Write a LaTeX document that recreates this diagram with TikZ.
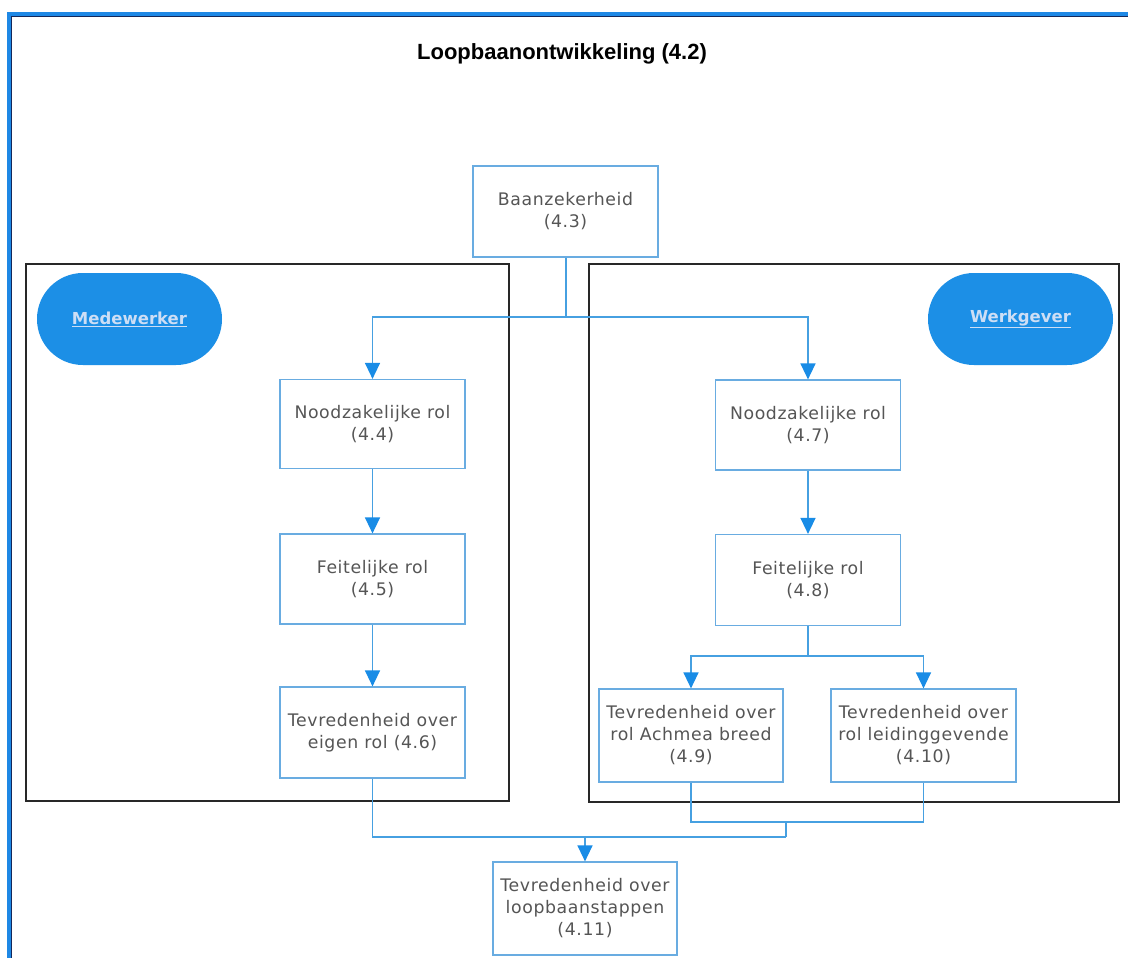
\documentclass[tikz,border=0pt]{standalone}
\usepackage{fontspec}
\setmainfont{DejaVu Sans}
\newfontfamily\boxfont[LetterSpace=3.5]{DejaVu Sans}
\newfontfamily\titlefont{Liberation Sans}
\usetikzlibrary{arrows.meta}
\definecolor{frameblue}{RGB}{30,136,229}
\definecolor{framedark}{RGB}{20,40,90}
\definecolor{boxblue}{RGB}{105,172,225}
\definecolor{linkblue}{RGB}{70,160,225}
\definecolor{tipblue}{RGB}{25,140,230}
\definecolor{pillblue}{RGB}{28,143,230}
\definecolor{pilltext}{RGB}{205,222,245}
\definecolor{txtgray}{RGB}{85,85,85}
\definecolor{groupline}{RGB}{40,40,40}
\tikzset{
  stepbox/.style={draw=boxblue, line width=1.2pt, fill=white, minimum width=185pt,
    minimum height=90pt, align=center, text=txtgray, inner sep=0pt,
    font=\boxfont\fontsize{17.3}{22}\selectfont},
  link/.style={draw=linkblue, line width=1.4pt},
  arr/.style={link, -{Triangle[width=15pt,length=16pt,color=tipblue]}},
  groupbox/.style={draw=groupline, line width=1.2pt, inner sep=0pt},
  pill/.style={fill=pillblue, rounded corners=45.9pt, minimum width=185pt,
    minimum height=92pt, inner sep=0pt, text=pilltext,
    font=\bfseries\fontsize{16.5}{20}\selectfont},
}
\begin{document}
\begin{tikzpicture}[x=1pt,y=-1pt]
\useasboundingbox[fill=white] (0,0) rectangle (1128,958);
% window frame
\fill[frameblue] (7,12) rectangle (1128,16);
\fill[frameblue] (7,12) rectangle (11,958);
\draw[framedark, line width=1pt] (1128,16.5) -- (11.5,16.5) -- (11.5,958);
% title
\node[font=\titlefont\bfseries\fontsize{22}{25}\selectfont, text=black] (title) at (562,54) {Loopbaanontwikkeling (4.2)};
% group boxes
\node[groupbox, minimum width=483pt, minimum height=537pt] (grpL) at (267.5,532.5) {};
\node[groupbox, minimum width=530pt, minimum height=538pt] (grpR) at (854,533) {};
% pills
\node[pill] (medew) at (129.5,319) {\underline{Medewerker}};
\node[pill] (werkg) at (1020.5,319) {\underline{Werkgever}};
% step boxes
\node[stepbox, minimum height=91pt] (n43) at (565.5,211.5) {Baanzekerheid\\(4.3)};
\node[stepbox, minimum height=89pt] (n44) at (372.5,424) {Noodzakelijke rol\\(4.4)};
\node[stepbox] (n45) at (372.5,579) {Feitelijke rol\\(4.5)};
\node[stepbox, minimum height=91pt] (n46) at (372.5,732.5) {Tevredenheid over\\eigen rol (4.6)};
\node[stepbox] (n47) at (808,425) {Noodzakelijke rol\\(4.7)};
\node[stepbox, minimum height=91pt] (n48) at (808,580) {Feitelijke rol\\(4.8)};
\node[stepbox, minimum width=184pt, minimum height=93pt] (n49) at (691,735.5) {Tevredenheid over\\rol Achmea breed\\(4.9)};
\node[stepbox, minimum height=93pt] (n410) at (923.5,735.5) {Tevredenheid over\\rol leidinggevende\\(4.10)};
\node[stepbox, minimum width=184pt, minimum height=93pt] (n411) at (585,908.5) {Tevredenheid over\\loopbaanstappen\\(4.11)};
% connectors
\coordinate (split1) at (566,317);
\draw[link] (n43.south -| split1) -- (split1);
\draw[arr] (split1) -| (n44.north);
\draw[arr] (split1) -| (n47.north);
\draw[arr] (n44.south) -- (n45.north);
\draw[arr] (n45.south) -- (n46.north);
\draw[arr] (n47.south) -- (n48.north);
\coordinate (split2) at (808,656);
\draw[link] (n48.south) -- (split2);
\draw[arr] (split2) -| (n49.north);
\draw[arr] (split2) -| (n410.north);
\coordinate (joinR) at (786,822);
\coordinate (joinL) at (786,837);
\coordinate (drop) at (585,837);
\draw[link] (n49.south) |- (joinR);
\draw[link] (n410.south) |- (joinR);
\draw[link] (joinR) -- (joinL);
\draw[link] (n46.south) |- (joinL);
\draw[arr] (drop) -- (n411.north);
\end{tikzpicture}
\end{document}
